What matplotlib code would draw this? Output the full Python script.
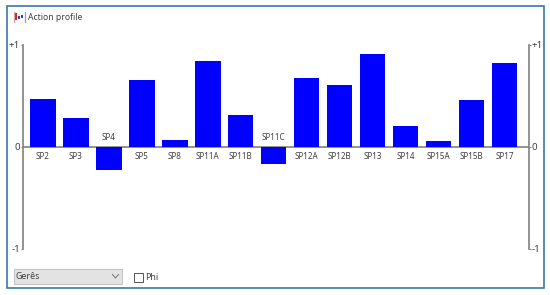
import matplotlib
matplotlib.use("Agg")
import matplotlib.pyplot as plt
from matplotlib.patches import Rectangle

plt.rcParams['font.family'] = ['Noto Sans', 'DejaVu Sans']

W, H = 550, 295

categories = ['SP2', 'SP3', 'SP4', 'SP5', 'SP8', 'SP11A', 'SP11B', 'SP11C',
              'SP12A', 'SP12B', 'SP13', 'SP14', 'SP15A', 'SP15B', 'SP17']
values = [0.47, 0.28, -0.23, 0.66, 0.065, 0.84, 0.31, -0.17,
          0.68, 0.61, 0.91, 0.21, 0.055, 0.46, 0.82]
y_ticks = [1, 0, -1]
y_labels = ['+1', '0', '-1']
TEXT = '#404040'
AXIS = '#808080'

fig = plt.figure(figsize=(W / 100, H / 100), dpi=100, facecolor='white')

# overlay in pixel coords for the window furniture
bg = fig.add_axes([0, 0, 1, 1])
bg.set_xlim(0, W)
bg.set_ylim(H, 0)
bg.axis('off')
bg.add_patch(Rectangle((6.5, 6), 537, 282, fc='white', ec='#3a78a8', lw=1.2))

# little window icon
bg.plot([13.5, 13.5], [12, 22], color='#d9a0a0', lw=0.9)
bg.plot([25, 25], [12, 22], color='#a0a0a0', lw=0.9)
bg.add_patch(Rectangle((14.5, 12.5), 2.2, 7, fc='#d02020', ec='none'))
bg.add_patch(Rectangle((18, 15.5), 1.8, 3, fc='#3040c0', ec='none'))
bg.add_patch(Rectangle((21, 14.5), 2.2, 3.5, fc='#3040c0', ec='none'))
bg.text(28, 18, 'Action profile', fontsize=6.2, color=TEXT, va='center', ha='left')

# combo box and checkbox
bg.add_patch(Rectangle((13.5, 268.5), 108, 15, fc='#e3e3e3', ec='#c4c4c4', lw=0.8))
bg.text(16, 276.5, 'Gerês', fontsize=6.4, color=TEXT, va='center', ha='left')
bg.plot([112.5, 115.5, 118.5], [274.5, 278, 274.5], color='#808080', lw=0.8)
bg.add_patch(Rectangle((133.5, 272.5), 9.5, 9.5, fc='white', ec='#555555', lw=0.7))
bg.text(145, 277.5, 'Phi', fontsize=6.4, color=TEXT, va='center', ha='left')

# plot area: x 23..529 px, +1 at 45 px, -1 at 249 px
ax = fig.add_axes([23 / W, 1 - 249 / H, 506 / W, 204 / H])
ax.patch.set_alpha(0)
ax.set_xlim(-0.6, 14.74)
ax.set_ylim(-1, 1)
x = range(len(categories))
ax.bar(x, values, width=0.775, color='#0000ff', zorder=3)
ax.axhline(0, color=AXIS, lw=1.2, zorder=2)

for i, v in zip(x, values):
    if v >= 0:
        ax.annotate(categories[i], (i, 0), xytext=(0, -9.5), textcoords='offset pixels',
                    ha='center', va='center', fontsize=5.8, color=TEXT)
    else:
        ax.annotate(categories[i], (i, 0), xytext=(0, 9), textcoords='offset pixels',
                    ha='center', va='center', fontsize=5.8, color=TEXT)

for s in ['top', 'bottom']:
    ax.spines[s].set_visible(False)
for s in ['left', 'right']:
    ax.spines[s].set_color(AXIS)
    ax.spines[s].set_linewidth(1.2)
ax.set_xticks([])
ax.set_yticks(y_ticks, y_labels)
ax.tick_params(axis='y', length=1.5, width=0.8, color=AXIS, pad=0.5, labelsize=7,
               labelcolor=TEXT, left=True, right=True, labelleft=True, labelright=True)

fig.savefig('out.png', dpi=100)
